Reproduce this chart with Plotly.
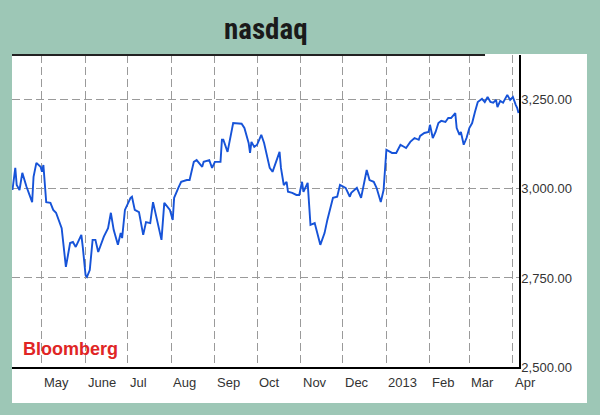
import plotly.graph_objects as go

dates = [
    "2012-04-10", "2012-04-12", "2012-04-13", "2012-04-15", "2012-04-17", "2012-04-20",
    "2012-04-24", "2012-04-25", "2012-04-27", "2012-04-30", "2012-05-01", "2012-05-02",
    "2012-05-04", "2012-05-07", "2012-05-09", "2012-05-11", "2012-05-15", "2012-05-16",
    "2012-05-18", "2012-05-21", "2012-05-23", "2012-05-25", "2012-05-29", "2012-05-30",
    "2012-06-01", "2012-06-02", "2012-06-04", "2012-06-06", "2012-06-08", "2012-06-10",
    "2012-06-12", "2012-06-14", "2012-06-17", "2012-06-18", "2012-06-19", "2012-06-21",
    "2012-06-23", "2012-06-24", "2012-06-26", "2012-06-27", "2012-06-29", "2012-07-03",
    "2012-07-04", "2012-07-06", "2012-07-09", "2012-07-12", "2012-07-14", "2012-07-17",
    "2012-07-19", "2012-07-22", "2012-07-25", "2012-07-27", "2012-07-31", "2012-08-02",
    "2012-08-03", "2012-08-06", "2012-08-08", "2012-08-12", "2012-08-14", "2012-08-17",
    "2012-08-19", "2012-08-23", "2012-08-24", "2012-08-28", "2012-08-30", "2012-09-01",
    "2012-09-05", "2012-09-06", "2012-09-07", "2012-09-10", "2012-09-14", "2012-09-20",
    "2012-09-22", "2012-09-25", "2012-09-26", "2012-09-27", "2012-09-29", "2012-10-01",
    "2012-10-04", "2012-10-06", "2012-10-10", "2012-10-12", "2012-10-14", "2012-10-17",
    "2012-10-18", "2012-10-20", "2012-10-22", "2012-10-23", "2012-10-26", "2012-10-29",
    "2012-10-31", "2012-11-02", "2012-11-03", "2012-11-06", "2012-11-08", "2012-11-11",
    "2012-11-15", "2012-11-18", "2012-11-20", "2012-11-21", "2012-11-24", "2012-11-27",
    "2012-11-29", "2012-12-03", "2012-12-06", "2012-12-07", "2012-12-11", "2012-12-14",
    "2012-12-18", "2012-12-20", "2012-12-23", "2012-12-25", "2012-12-28", "2012-12-30",
    "2013-01-01", "2013-01-05", "2013-01-08", "2013-01-11", "2013-01-15", "2013-01-18",
    "2013-01-21", "2013-01-24", "2013-01-25", "2013-01-28", "2013-01-31", "2013-02-01",
    "2013-02-03", "2013-02-05", "2013-02-07", "2013-02-09", "2013-02-12", "2013-02-14",
    "2013-02-16", "2013-02-19", "2013-02-20", "2013-02-22", "2013-02-23", "2013-02-25",
    "2013-02-27", "2013-03-01", "2013-03-03", "2013-03-05", "2013-03-07", "2013-03-10",
    "2013-03-12", "2013-03-14", "2013-03-16", "2013-03-18", "2013-03-20", "2013-03-21",
    "2013-03-23", "2013-03-25", "2013-03-28", "2013-03-30", "2013-04-01", "2013-04-03",
    "2013-04-04", "2013-04-05",
]

nasdaq = [
    2997, 3059, 3011, 2997, 3045, 3006,
    2963, 3034, 3073, 3062, 3048, 3067,
    2963, 2961, 2941, 2933, 2890, 2857,
    2781, 2848, 2851, 2837, 2871, 2837,
    2758, 2753, 2772, 2857, 2857, 2823,
    2843, 2866, 2890, 2907, 2933, 2885,
    2857, 2843, 2876, 2862, 2941, 2975,
    2978, 2941, 2935, 2871, 2907, 2904,
    2963, 2913, 2857, 2961, 2941, 2913,
    2975, 3003, 3020, 3025, 3025, 3076,
    3081, 3062, 3076, 3081, 3059, 3076,
    3076, 3138, 3138, 3104, 3185, 3183,
    3171, 3129, 3101, 3132, 3118, 3124,
    3152, 3129, 3059, 3048, 3073, 3104,
    3059, 3011, 3020, 2992, 2989, 2983,
    2983, 3020, 2992, 3017, 2899, 2904,
    2843, 2876, 2913, 2927, 2975, 2978,
    3011, 3003, 2978, 2989, 3003, 2975,
    3053, 3025, 3020, 3003, 2963, 2997,
    3110, 3101, 3101, 3124, 3115, 3132,
    3143, 3138, 3149, 3157, 3160, 3180,
    3143, 3160, 3185, 3191, 3188, 3199,
    3199, 3213, 3171, 3152, 3160, 3124,
    3143, 3171, 3185, 3216, 3244, 3253,
    3244, 3258, 3244, 3242, 3250, 3230,
    3247, 3242, 3264, 3250, 3258, 3236,
    3228, 3213,
]

month_ticks = [
    "2012-05-01", "2012-06-01", "2012-07-01", "2012-08-01", "2012-09-01", "2012-10-01",
    "2012-11-01", "2012-12-01", "2013-01-01", "2013-02-01", "2013-03-01", "2013-04-01",
]
month_labels = ["May", "June", "Jul", "Aug", "Sep", "Oct", "Nov", "Dec", "2013", "Feb", "Mar", "Apr"]

y_ticks = [2500, 2750, 3000, 3250]

title_text = "nasdaq"
source_text = "Bloomberg"

BG = "#9dc7b6"
GRID = "#9a9a9a"
TXT = "#333333"

fig = go.Figure()
fig.add_trace(go.Scatter(
    x=dates, y=nasdaq, mode="lines",
    line=dict(color="#1653d8", width=1.9),
    hoverinfo="x+y",
))

fig.update_layout(
    width=600, height=415,
    paper_bgcolor=BG, plot_bgcolor="white",
    margin=dict(l=12, r=81, t=55, b=48),
    showlegend=False,
    font=dict(family="Arial, Liberation Sans, sans-serif", size=13, color=TXT),
)

fig.update_xaxes(
    type="date",
    range=["2012-04-09 16:00", "2013-04-05 08:00"],
    tickvals=month_ticks,
    showticklabels=False,
    showgrid=True, gridcolor=GRID, griddash="8px,4px", gridwidth=1,
    showline=True, linecolor="black", linewidth=1.5,
    ticks="", zeroline=False,
)
fig.update_yaxes(
    range=[2500, 3376],
    side="right",
    tickvals=y_ticks,
    tickformat=",.2f",
    showgrid=True, gridcolor=GRID, griddash="8px,4px", gridwidth=1,
    showline=True, linecolor="black", linewidth=1.5,
    ticks="", zeroline=False,
    ticklabelstandoff=-2,
    tickfont=dict(size=13, color=TXT),
)

# white panel and top rule
fig.add_shape(type="rect", xref="paper", yref="paper",
              x0=0, x1=1.1341, y0=-0.1154, y1=1.0032,
              fillcolor="white", line=dict(width=0), layer="below")
fig.add_shape(type="line", xref="paper", yref="paper",
              x0=0, x1=0.933, y0=1.0, y1=1.0,
              line=dict(color="#222222", width=2.2))

for d, lab in zip(month_ticks, month_labels):
    fig.add_annotation(x=d, xref="x", y=0, yref="paper", yshift=-15,
                       text=lab, showarrow=False, xanchor="left", yanchor="middle",
                       font=dict(size=13, color=TXT))

fig.add_annotation(
    x=0.5, xref="paper", y=1.0, yref="paper", yshift=26,
    text=f"<b>{title_text}</b>", showarrow=False,
    xanchor="center", yanchor="middle",
    font=dict(family="Liberation Sans Narrow, Noto Sans ExtraCondensed, Noto Sans Condensed, "
                     "Roboto Condensed, DejaVu Sans Condensed, Impact, sans-serif",
              size=29, color="#1a1a1a", weight=900),
)

fig.add_annotation(x=0, xref="paper", y=0, yref="paper", xshift=9, yshift=18,
                   text=f"<b>{source_text}</b>", showarrow=False,
                   xanchor="left", yanchor="middle",
                   font=dict(family="Arial, Liberation Sans, sans-serif", size=18, color="#e02525"))

fig.write_html("out.html", config={"displayModeBar": False},
               post_script="document.body.style.margin='0';")
